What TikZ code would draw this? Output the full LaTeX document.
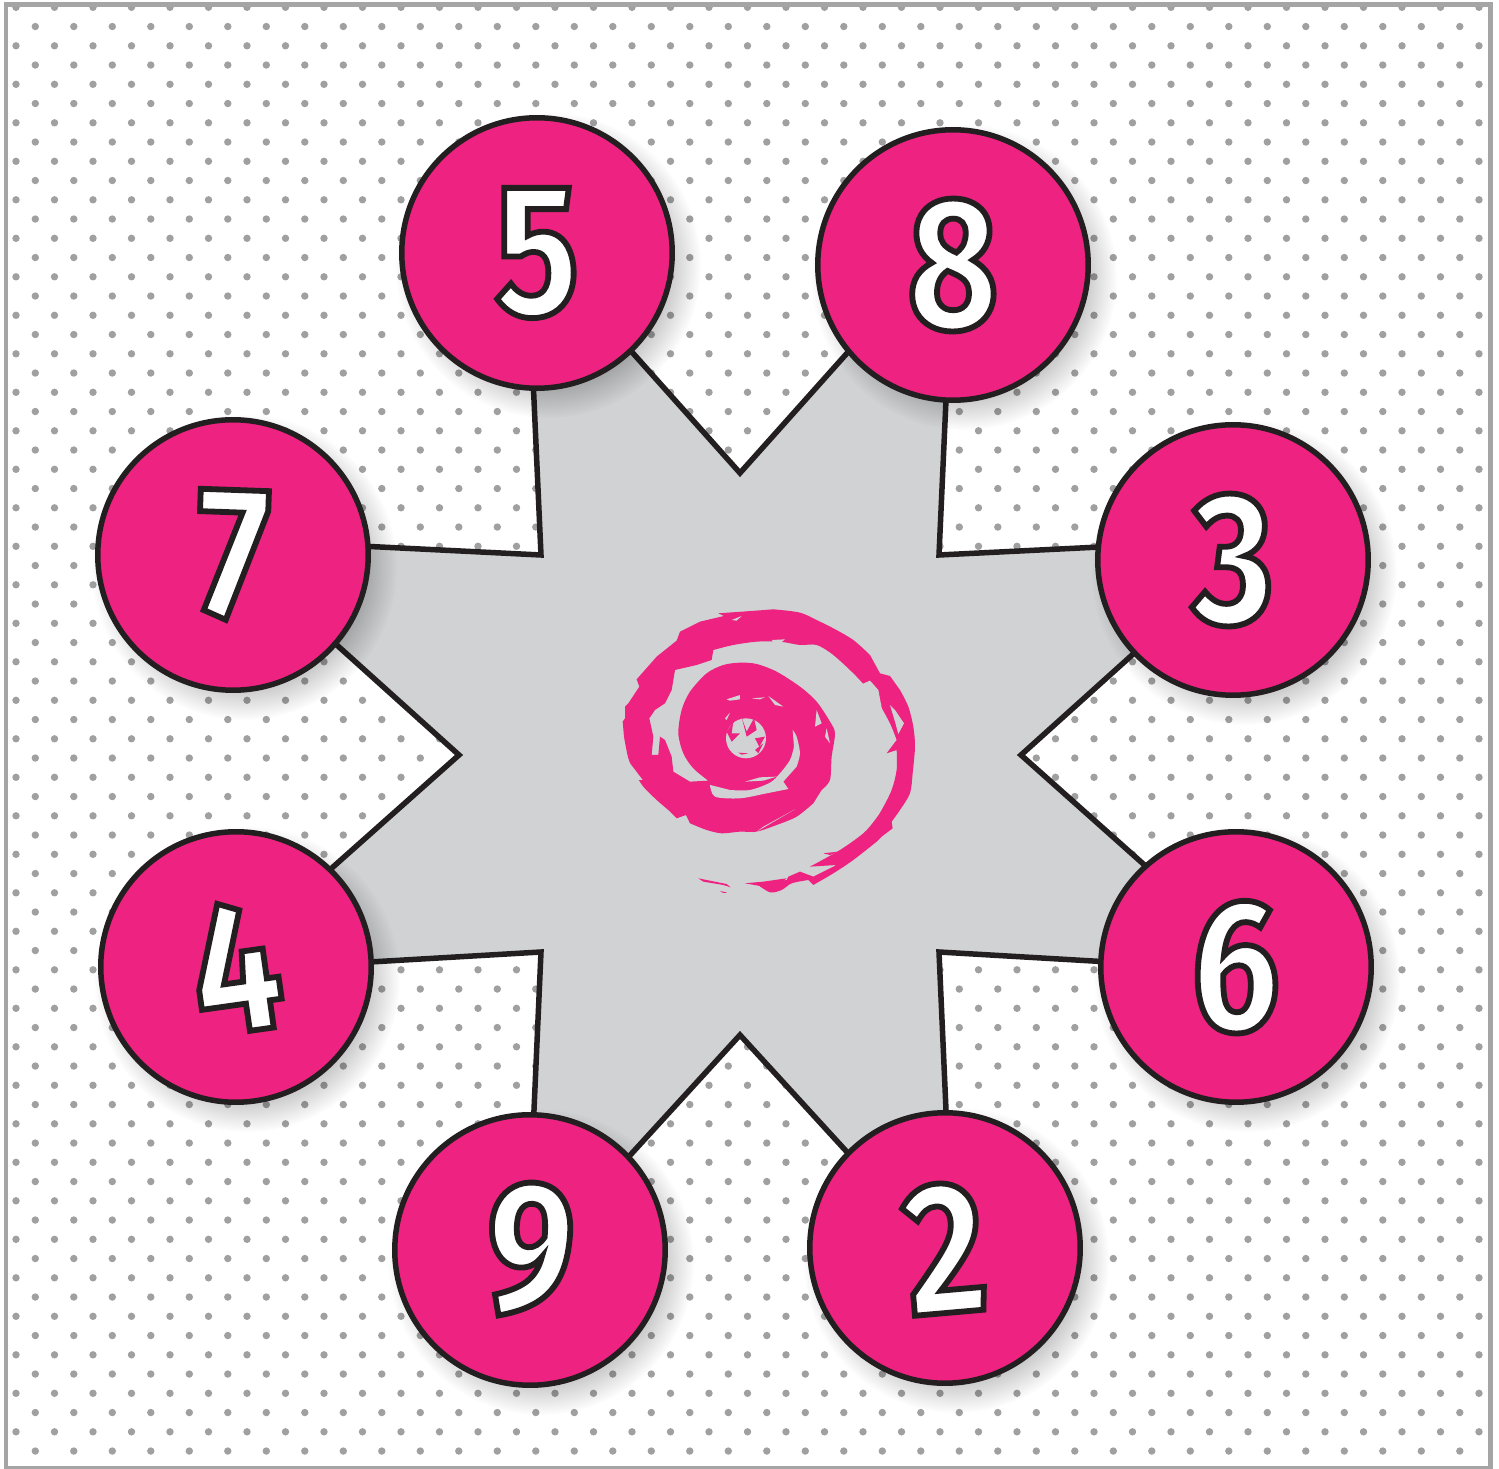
\documentclass[tikz,border=0pt]{standalone}
\usepackage{fontspec}
\usetikzlibrary{fadings}
\newfontfamily\digitfont{Fira Sans Bold}[FakeStretch=0.83]
\definecolor{swirlpink}{RGB}{238,34,128}
\definecolor{stargray}{RGB}{208,210,211}
\definecolor{inkdark}{RGB}{35,31,32}
\definecolor{framegray}{RGB}{165,165,165}
\definecolor{dotgray}{RGB}{160,160,160}
\newcommand{\outlined}[1]{\special{pdf:code 2 Tr 3.3 w 0.137 0.122 0.125 RG}#1\special{pdf:code 0 Tr}}
\tikzfading[name=softedge, inner color=transparent!0, outer color=transparent!100]
\begin{document}
\begin{tikzpicture}[x=0.02cm, y=-0.02cm,
      numcircle/.style={circle, draw=inkdark, line width=0.11cm, fill=swirlpink, minimum size=5.41cm,
                    inner sep=0pt, text=white, font=\fontsize{107}{107}\digitfont},
      softshadow/.style={fill=black, path fading=softedge, fit fading=true},
      griddot/.style={fill=dotgray}
    ]
    \useasboundingbox (0,0) rectangle (1499,1469);
    \fill[white] (0,0) rectangle (1499,1469);
    % dot screen
    \begin{scope}
      \clip (6,5) rectangle (1490,1468);
      \foreach \row in {0,2,...,76} {
        \foreach \col in {0,...,38} {
          \fill[griddot] (16+38.5*\col, 7.3+19.25*\row) circle (3.7);
          \fill[griddot] (35.3+38.5*\col, 26.55+19.25*\row) circle (3.7);
        }
      }
    \end{scope}
    \draw[framegray, line width=0.1cm] (6,5) rectangle (1490,1468);
    % star
    \draw[inkdark, fill=stargray, line width=0.11cm, line join=miter]
      (740,473) -- (953.5,234) -- (939,555) -- (1261,539) -- (1021,755) -- (1263.5,971)
      -- (939,952) -- (953,1268) -- (740,1035) -- (527,1268) -- (541,952) -- (216,971)
      -- (459,755) -- (219,539) -- (541,555) -- (526.5,234) -- cycle;
    % swirl, in a frame of its own
    \begin{scope}[shift={(600,590)}, x=0.00667cm, y=-0.00667cm]
      \fill[swirlpink] plot[smooth] coordinates {(470,882) (510,907) (545,900) (575,880) (625,870)}
        -- plot[smooth] coordinates {(640,885) (700,850) (760,810) (830,755)}
        -- (845,740) -- (878,715) -- plot[smooth] coordinates {(875,695) (900,660) (930,610) (938,550) (945,470) (940,410) (925,350) (900,300)}
        -- (870,258) -- (840,250) -- plot[smooth] coordinates {(810,195) (760,150) (700,115) (660,95) (600,68) (520,58)}
        -- (440,64) -- (355,70) -- (372,78) -- plot[smooth] coordinates {(300,95) (240,125)}
        -- (230,152) -- plot[smooth] coordinates {(170,200) (110,268)}
        -- (118,290) -- (85,340) -- (75,350) -- (75,385) -- (68,395)
        -- plot[smooth] coordinates {(72,440) (85,505) (105,550) (130,590) (170,630) (205,660)}
        -- (230,685) -- (258,675) -- plot[smooth] coordinates {(270,700) (320,720) (365,730) (420,725) (470,725) (530,705) (590,680) (640,640)}
        -- plot[smooth] coordinates {(665,600) (690,570) (695,500) (705,430) (690,395) (650,335) (600,290) (530,245) (470,222) (420,218) (370,225) (320,250) (270,305) (245,360) (235,430) (250,490) (280,535) (325,572)}
        -- (270,575) -- (245,560) -- (220,545) -- (215,500) -- (195,450) -- (180,440) -- (175,495) -- (155,495) -- (160,440) -- (148,385) -- (165,360) -- (195,340) -- (215,300)
        -- (225,240) -- (290,225) -- (335,210) -- plot[smooth] coordinates {(340,180) (400,165) (470,155) (540,155) (600,165) (650,165) (700,195) (770,260) (830,330) (870,400) (890,450)}
        -- (860,490) -- plot[smooth] coordinates {(890,480) (890,540) (875,600) (845,660) (825,690) (790,730) (720,780) (630,830)}
        -- (710,825) -- (640,860) -- (600,845) -- (565,860) -- (560,870) -- cycle;
      % tail slivers
      \fill[swirlpink] (295,865) -- (380,882) -- (392,892) -- (370,885) -- (310,875) -- cycle;
      \fill[swirlpink] (360,903) -- (382,908) -- (370,909) -- cycle;
      \fill[swirlpink] (435,880) -- (490,875) -- (560,865) -- (520,895) -- cycle;
      \fill[swirlpink] (670,790) -- (715,785) -- (690,795) -- cycle;
      % gray crescent and marks on the inner turn
      \fill[stargray] plot[smooth] coordinates {(330,585) (345,620) (420,625) (500,610) (565,597)}
        -- (550,575) -- plot[smooth] coordinates {(590,530) (600,490) (590,440) (578,420)}
        -- plot[smooth] coordinates {(582,470) (570,510) (540,550) (510,578) (450,600) (390,600)} -- cycle;
      \fill[stargray] (435,575) -- (480,562) -- (530,560) -- (490,572) -- cycle;
      \fill[stargray] (380,328) -- (420,315) -- (420,328) -- (390,332) -- cycle;
      \fill[stargray] (505,318) -- (550,350) -- (525,345) -- cycle;
      \fill[stargray] (455,325) -- (495,322) -- (480,328) -- cycle;
      \fill[stargray] (650,360) -- (665,400) -- (645,410) -- cycle;
      \fill[stargray] (680,415) -- (690,460) -- (675,440) -- cycle;
      \fill[stargray] (375,385) -- (390,368) -- (380,390) -- cycle;
      \fill[stargray] (810,272) -- (835,300) -- (852,390) -- (825,345) -- (780,285) -- cycle;
      \fill[stargray] (870,345) -- (885,360) -- (912,400) -- (895,432) -- (885,395) -- cycle;
      \fill[stargray] (395,90) -- (425,78) -- (410,92) -- cycle;
      \fill[stargray] (515,150) -- (555,148) -- (530,168) -- cycle;
      \fill[stargray] (90,520) -- (128,570) -- (110,570) -- cycle;
      \fill[stargray] (470,725) -- (585,658) -- (490,710) -- cycle;
      % globe in the middle
      \fill[stargray] (438,445) circle (60);
      \fill[swirlpink] (425,382) -- (440,425) -- (462,385) -- (470,420) -- (440,440) -- cycle;
      \fill[swirlpink] (380,425) -- (400,395) -- (395,430) -- (420,430) -- (395,455) -- cycle;
      \fill[swirlpink] (465,445) -- (495,440) -- (478,470) -- cycle;
      \fill[swirlpink] (415,488) -- (445,490) -- (425,494) -- cycle;
      \fill[swirlpink] (465,480) -- (490,460) -- (475,490) -- cycle;
    \end{scope}
    % shadows, then the numbered circles
    \foreach \cx/\cy in {537/253, 953/265, 1233/560, 1236/967, 945/1248, 530/1250, 236/967, 233/555} {
      \fill[softshadow] (\cx+11,\cy+12) circle (153);
    }
    \node[numcircle] (n5) at (537,253) {\outlined{5}};
    \node[numcircle] (n8) at (953,265) {\outlined{8}};
    \node[numcircle] (n3) at (1233,560) {\outlined{3}};
    \node[numcircle, rotate=-2] (n6) at (1236,967) {\outlined{6}};
    \node[numcircle, rotate=5] (n2) at (945,1248) {\outlined{2}};
    \node[numcircle, rotate=-4] (n9) at (530,1250) {\outlined{9}};
    \node[numcircle, rotate=8] (n4) at (236,967) {\outlined{4}};
    \node[numcircle, rotate=-2] (n7) at (233,555) {\outlined{7}};
\end{tikzpicture}
\end{document}
